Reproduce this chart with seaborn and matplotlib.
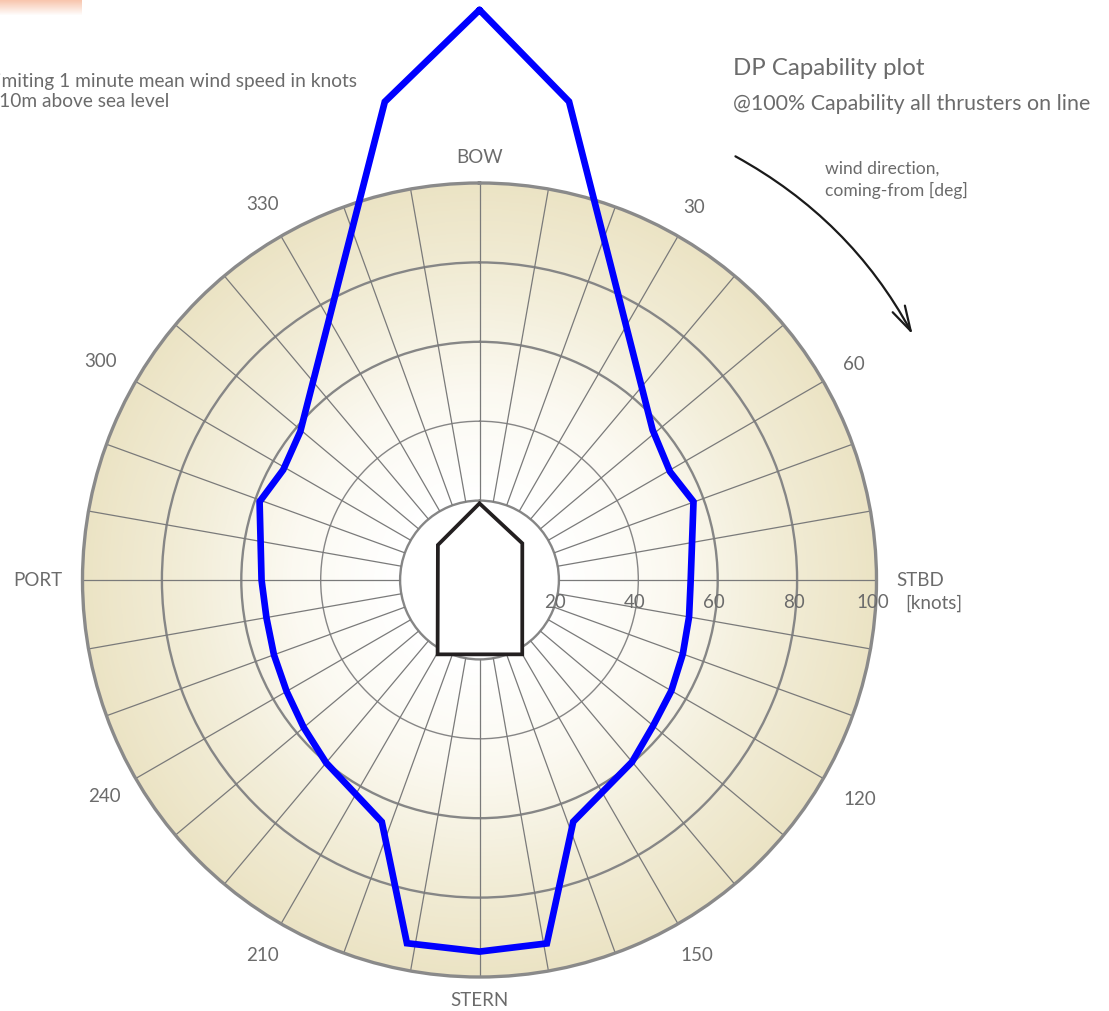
import numpy as np
import matplotlib
matplotlib.use("Agg")
import matplotlib.pyplot as plt
from matplotlib.colors import LinearSegmentedColormap
from matplotlib.patches import FancyArrowPatch
import seaborn as sns

# Wind limit envelope (deg clockwise from bow, knots)
wind_deg = [0, 10.6, 49.1, 60.4, 69.9, 90, 100, 110, 120, 130, 140, 158.8, 169.5, 180,
            191.3, 202, 220, 230, 240, 250, 260, 270, 289.6, 299.3, 309.6, 348.8, 360]
wind_kn = [143.6, 122.6, 57.7, 55.2, 57.4, 53.2, 53.6, 54.5, 55.8, 57.1, 59.8, 65.3, 93.1, 93.6,
           93.3, 65.7, 60.1, 57.8, 56.1, 55.1, 54.5, 54.9, 58.8, 56.7, 58.6, 122.8, 143.6]

# ship outline in the middle
hull_deg = [0, 49.4, 150.1, 209.4, 310.1]
hull_r = [19.3, 14.2, 21.6, 21.5, 13.7]

ring_values = [20, 40, 60, 80]
ring_widths = [1.7, 1.0, 1.7, 1.7]
speed_labels = ["20", "40", "60", "80", "100"]
speed_values = [20, 40, 60, 80, 100]

dir_deg = [0, 30, 60, 90, 120, 150, 180, 210, 240, 270, 300, 330]
dir_labels = ["BOW", "30", "60", "STBD", "120", "150", "STERN", "210", "240", "PORT", "300", "330"]
dir_label_r = [106.3, 108.3, 108.8, 111.1, 110.6, 109.3, 105.8, 109.1, 109.0, 111.3, 110.1, 109.3]

sns.set_theme(style="white")
plt.rcParams["font.family"] = ["Lato", "DejaVu Sans"]
txt = "#6b6b6b"

W, H = 1109, 1011
fig = plt.figure(figsize=(W / 100, H / 100), dpi=100)

cx, cy, R = 479.5, 580, 397
ax = fig.add_axes([(cx - R) / W, (H - cy - R) / H, 2 * R / W, 2 * R / H], projection="polar")
ax.set_theta_zero_location("N")
ax.set_theta_direction(-1)
ax.patch.set_alpha(0)

# radial background gradient: white at the hub to beige at the rim
cmap = LinearSegmentedColormap.from_list("bg", ["#ffffff", "#fbf9f1", "#f2edd8", "#ebe3c4"])
tt = np.linspace(0, 2 * np.pi, 361)
rr = np.linspace(0, 100, 101)
T, Rg = np.meshgrid(tt, rr)
shade = np.clip((Rg - 20) / 80, 0, 1)
ax.pcolormesh(T, Rg, shade, cmap=cmap, shading="auto", zorder=0, rasterized=True)

# spokes every 10 deg, starting at the 20 kn ring
ax.vlines(np.deg2rad(np.arange(0, 360, 10)), 20, 100, color="#7a7a7a", lw=0.9, zorder=1.2)

ax.set_ylim(0, 100)
ax.set_rgrids(ring_values, labels=[""] * len(ring_values))
ax.set_thetagrids([], [])
ax.xaxis.grid(False)
ax.yaxis.grid(True)
for gl, w in zip(ax.yaxis.get_gridlines(), ring_widths):
    gl.set_color("#868686")
    gl.set_linewidth(w)
    gl.set_linestyle("-")
ax.spines["polar"].set_color("#8a8a8a")
ax.spines["polar"].set_linewidth(2.4)
ax.tick_params(length=0)

# hull
ax.fill(np.deg2rad(hull_deg), hull_r, facecolor="white", edgecolor="#231f20", lw=2.7,
        joinstyle="miter", zorder=3)

# capability envelope
sns.lineplot(x=np.deg2rad(wind_deg), y=wind_kn, sort=False, ax=ax, color="#0000ff", lw=4.8,
             clip_on=False, zorder=5, solid_joinstyle="miter")
ax.set_xlabel("")
ax.set_ylabel("")

for d, lab, r in zip(dir_deg, dir_labels, dir_label_r):
    ax.text(np.deg2rad(d), r, lab, ha="center", va="center", fontsize=13.5, color=txt)

for v, lab in zip(speed_values, speed_labels):
    ax.annotate(lab, (np.pi / 2, v), xytext=(-2.5, -16.5), textcoords="offset points",
                ha="center", va="center", fontsize=13.5, color=txt, annotation_clip=False)
ax.annotate("[knots]", (np.pi / 2, 100), xytext=(20.5, -16.5), textcoords="offset points",
            ha="left", va="center", fontsize=13.5, color=txt, annotation_clip=False)

# headings
fig.text(733 / W, 1 - 75 / H, "DP Capability plot", fontsize=17.3, color=txt, va="baseline")
fig.text(733 / W, 1 - 110 / H, "@100% Capability all thrusters on line", fontsize=15.4,
         color=txt, va="baseline")
fig.text(357 / W, 1 - 87 / H, "Limiting 1 minute mean wind speed in knots", fontsize=13.8,
         color=txt, va="baseline", ha="right")
fig.text(169 / W, 1 - 107 / H, "at 10m above sea level", fontsize=13.8, color=txt,
         va="baseline", ha="right")
fig.text(825 / W, 1 - 174 / H, "wind direction,", fontsize=12.6, color=txt, va="baseline")
fig.text(825 / W, 1 - 196 / H, "coming-from [deg]", fontsize=12.6, color=txt, va="baseline")

# curved arrow for the wind direction sense
arr = FancyArrowPatch((733, H - 155), (914, H - 337), transform=None,
                      connectionstyle="arc3,rad=-0.15",
                      arrowstyle="->,head_length=0.9,head_width=0.25",
                      mutation_scale=20, color="#1a1a1a", lw=1.6)
fig.patches.append(arr)

# pink tab in the corner
tab = fig.add_axes([0, 1 - 16 / H, 82 / W, 16 / H])
tab.imshow(np.linspace(0, 1, 16)[:, None] * np.ones((1, 10)), aspect="auto",
           cmap=LinearSegmentedColormap.from_list("tab", ["#f8c6ae", "#ffffff"]))
tab.axis("off")

fig.savefig("out.png", dpi=100)
